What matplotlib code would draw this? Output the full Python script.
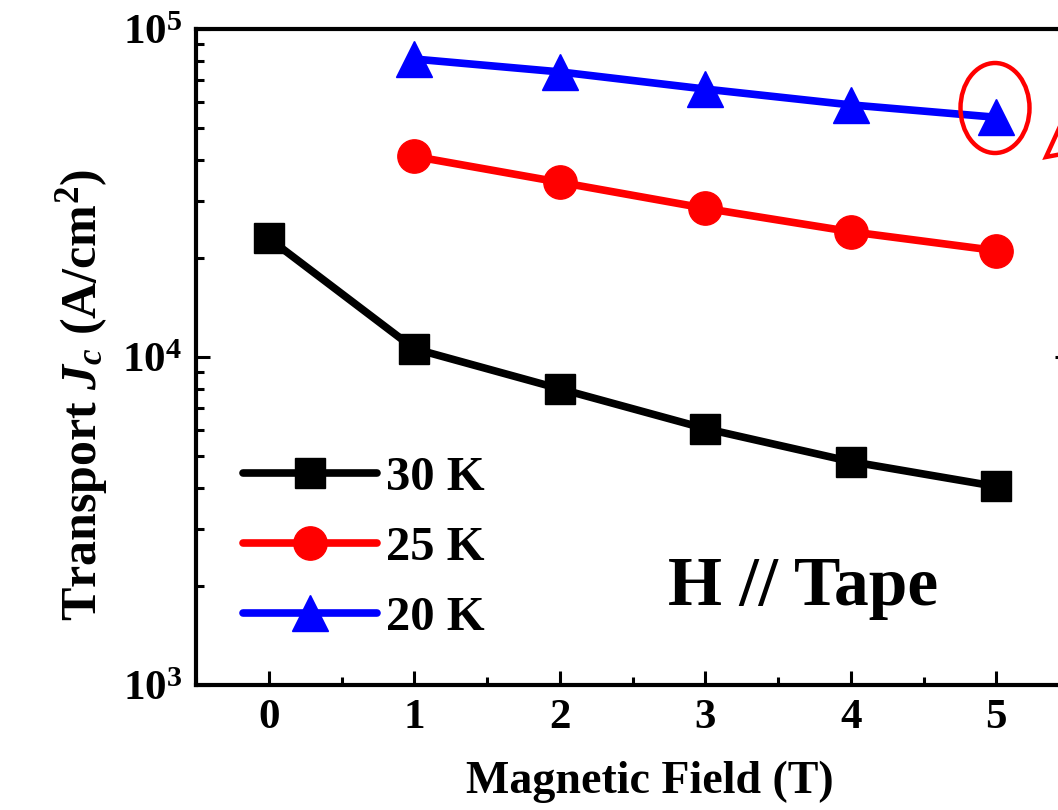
import math

import matplotlib
matplotlib.use("Agg")
import matplotlib.pyplot as plt
from matplotlib.patches import Ellipse
from matplotlib.lines import Line2D
from matplotlib.ticker import FuncFormatter, LogLocator, MultipleLocator

# Transport Jc vs magnetic field, H // tape
field_30k = [0, 1, 2, 3, 4, 5]
jc_30k = [23000, 10600, 8000, 6050, 4800, 4030]

field_25k = [1, 2, 3, 4, 5]
jc_25k = [40900, 34100, 28400, 24100, 21100]

field_20k = [1, 2, 3, 4, 5]
jc_20k = [81000, 74000, 65600, 58700, 53800]

labels = ["30 K", "25 K", "20 K"]
colors = ["black", "#ff0000", "#0000ff"]
markers = ["s", "o", "^"]
marker_sizes = [21, 24, 26]

plt.rcParams["font.family"] = "Liberation Serif"
plt.rcParams["font.weight"] = "bold"
plt.rcParams["mathtext.fontset"] = "custom"
plt.rcParams["mathtext.rm"] = "Liberation Serif:bold"
plt.rcParams["mathtext.bf"] = "Liberation Serif:bold"
plt.rcParams["mathtext.it"] = "Liberation Serif:italic:bold"

W, H = 1058, 810
fig = plt.figure(figsize=(W / 100, H / 100), dpi=100)
ax = fig.add_axes([196 / W, 1 - 685 / H, (1069 - 196) / W, (685 - 29) / H])

series = [(field_30k, jc_30k), (field_25k, jc_25k), (field_20k, jc_20k)]
for (x, y), lab, c, m, ms in zip(series, labels, colors, markers, marker_sizes):
    ax.plot(x, y, color=c, marker=m, markersize=ms, lw=5.5, label=lab,
            solid_capstyle="round", clip_on=False)

ax.set_yscale("log")
ax.set_ylim(1e3, 1e5)
ax.set_xlim(-0.5, 5.5)
ax.xaxis.set_major_locator(MultipleLocator(1))
ax.xaxis.set_minor_locator(MultipleLocator(0.5))
ax.yaxis.set_major_locator(LogLocator(base=10))
ax.yaxis.set_minor_locator(LogLocator(base=10, subs=range(2, 10)))
ax.yaxis.set_major_formatter(FuncFormatter(lambda v, p: r"$\mathbf{10^{%d}}$" % round(math.log10(v))))

ax.tick_params(which="both", direction="in", width=2.2, top=False, right=True)
ax.tick_params(which="major", length=10)
ax.tick_params(which="minor", length=5.5)
ax.tick_params(axis="x", labelsize=31, pad=10)
ax.tick_params(axis="y", labelsize=31, pad=10)
for s in ax.spines.values():
    s.set_linewidth(3)

ax.set_xlabel("Magnetic Field (T)", fontsize=33, fontweight="bold")
ax.xaxis.set_label_coords((650 - 196) / 873, -(793 - 685) / 656)
ax.xaxis.label.set_va("baseline")
ax.set_ylabel(r"Transport $J_c$ (A/cm$^2$)", fontsize=36, fontweight="bold")
ax.yaxis.set_label_coords((110 - 196) / 873, (685 - 395) / 656)

ax.legend(loc="center left", bbox_to_anchor=(243 / W, 1 - 548 / H),
          bbox_transform=fig.transFigure, frameon=False, fontsize=35,
          handlelength=2.75, handletextpad=0.2, labelspacing=0.54,
          borderpad=0, borderaxespad=0)

ax.text((668 - 196) / 873, (685 - 605) / 656, "H // Tape", transform=ax.transAxes,
        fontsize=50, fontweight="bold", ha="left", va="baseline")

# red highlight around the last 20 K point and the cut-off arrow at the edge
ell = Ellipse((995, H - 108), 69, 90, transform=None, fill=False,
              edgecolor="#ff0000", lw=3.2, clip_on=False)
fig.add_artist(ell)
fig.add_artist(Line2D([1062 / W, 1046 / W, 1062 / W],
                      [1 - 122 / H, 1 - 157 / H, 1 - 154 / H],
                      transform=fig.transFigure, color="#ff0000", lw=3.2,
                      solid_joinstyle="miter"))

fig.savefig("out.png", dpi=100)
